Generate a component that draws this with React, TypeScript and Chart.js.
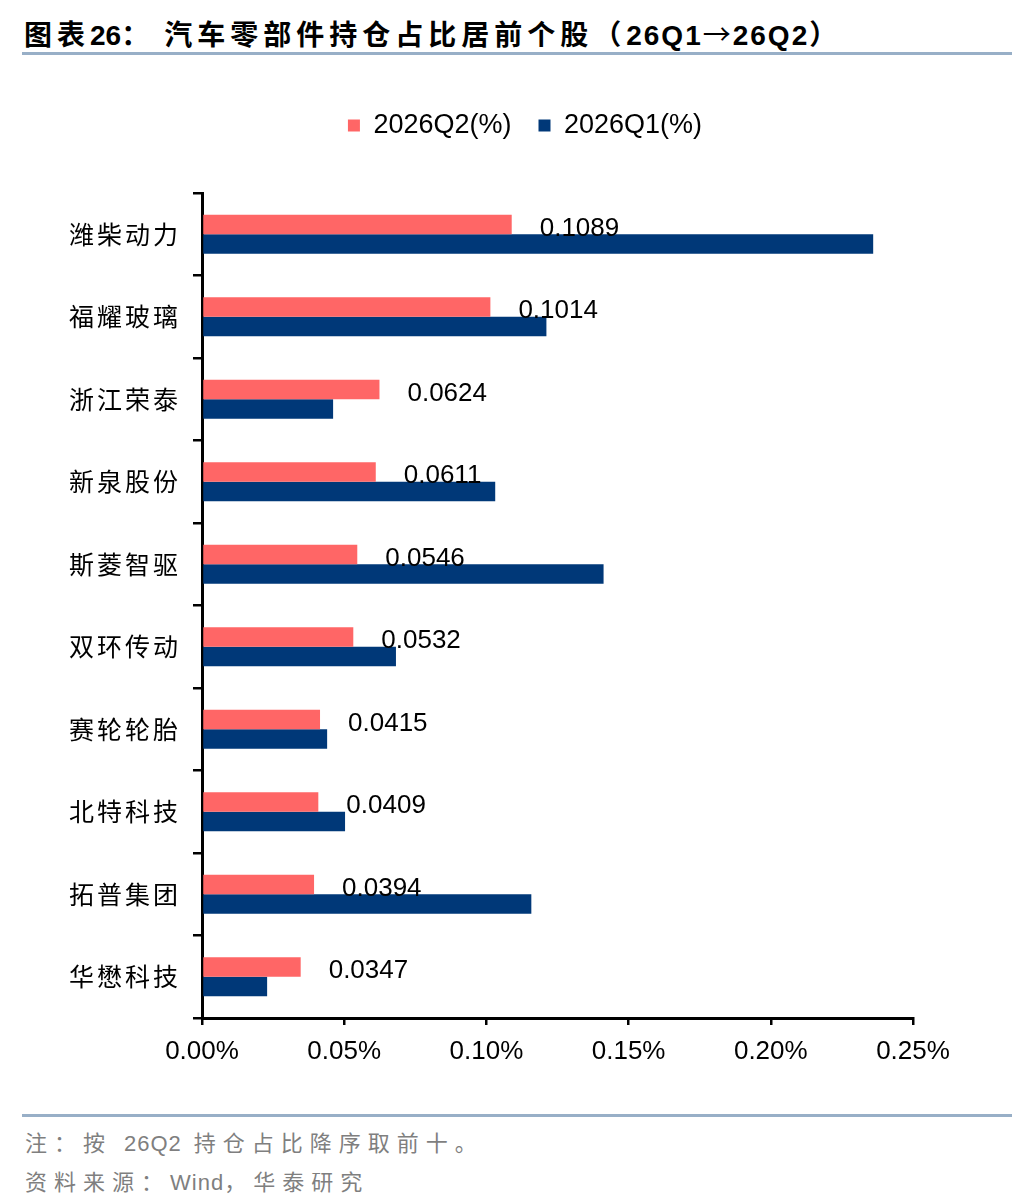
import { useEffect, useRef } from 'react';
import { Chart, registerables } from 'chart.js';

Chart.register(...registerables);

const categories = ['潍柴动力', '福耀玻璃', '浙江荣泰', '新泉股份', '斯菱智驱', '双环传动', '赛轮轮胎', '北特科技', '拓普集团', '华懋科技'];
const q2Values = [0.1089, 0.1014, 0.0624, 0.0611, 0.0546, 0.0532, 0.0415, 0.0409, 0.0394, 0.0347];
const q1Values = [0.2360, 0.1211, 0.0461, 0.1031, 0.1412, 0.0682, 0.0440, 0.0503, 0.1158, 0.0229];
const seriesNames = ['2026Q2(%)', '2026Q1(%)'];
const xMin = 0;
const xMax = 0.25;
const xStep = 0.05;

const RED = '#ff6666';
const NAVY = '#003878';
const LINE = '#98afc7';
const SANS = '"Liberation Sans", Arial, "Noto Sans CJK SC", sans-serif';
const CJK = '"Noto Sans CJK SC", sans-serif';

// value labels for the Q2 series, placed right of the red bar
const valueLabels = {
    id: 'valueLabels',
    afterDatasetsDraw(chart: any) {
        const ctx = chart.ctx;
        const meta = chart.getDatasetMeta(0);
        ctx.save();
        ctx.font = `26px ${SANS}`;
        ctx.fillStyle = '#000';
        ctx.textAlign = 'left';
        ctx.textBaseline = 'middle';
        meta.data.forEach((bar: any, i: number) => {
            ctx.fillText(q2Values[i].toFixed(4), bar.x + 28, bar.y + 4);
        });
        ctx.restore();
    },
};

// spacing between the category characters, and legend placement
const layoutTweaks = {
    id: 'layoutTweaks',
    beforeInit(chart: any) {
        const legend = chart.legend;
        if (legend && !legend._tall) {
            const fit = legend.fit;
            legend.fit = function () {
                fit.call(this);
                this.height = 108;
            };
            legend._tall = true;
        }
    },
    afterLayout(chart: any) {
        const legend = chart.legend;
        if (legend) {
            legend.left = 0;
            legend.right = 1050;
        }
    },
    beforeDraw(chart: any) {
        const y = chart.scales.y;
        if (y && !y._spaced) {
            const drawLabels = y.drawLabels.bind(y);
            y.drawLabels = (area: any) => {
                chart.ctx.save();
                chart.ctx.letterSpacing = '3px';
                drawLabels(area);
                chart.ctx.restore();
            };
            y._spaced = true;
        }
    },
};

const HoldingChart = () => {
    const canvasRef = useRef<HTMLCanvasElement>(null);

    useEffect(() => {
        const canvas = canvasRef.current;
        if (!canvas) return;

        const chart = new Chart(canvas, {
            type: 'bar',
            data: {
                labels: categories,
                datasets: [
                    {
                        label: seriesNames[0],
                        data: q2Values,
                        backgroundColor: RED,
                        categoryPercentage: 0.47,
                        barPercentage: 1,
                    },
                    {
                        label: seriesNames[1],
                        data: q1Values,
                        backgroundColor: NAVY,
                        categoryPercentage: 0.47,
                        barPercentage: 1,
                    },
                ],
            },
            options: {
                indexAxis: 'y',
                animation: false,
                responsive: true,
                maintainAspectRatio: false,
                layout: {
                    padding: { top: 5, left: 0, right: 123, bottom: 0 },
                },
                plugins: {
                    tooltip: { enabled: false },
                    legend: {
                        position: 'top',
                        labels: {
                            boxWidth: 12,
                            boxHeight: 12,
                            padding: 27,
                            color: '#000',
                            font: { family: SANS, size: 27 },
                        },
                    },
                },
                scales: {
                    x: {
                        min: xMin,
                        max: xMax,
                        afterFit: (s: any) => {
                            s.height = 60;
                        },
                        ticks: {
                            stepSize: xStep,
                            padding: 11,
                            color: '#000',
                            font: { family: SANS, size: 26 },
                            callback: (v: any) => Number(v).toFixed(2) + '%',
                        },
                        grid: {
                            drawOnChartArea: false,
                            drawTicks: true,
                            tickLength: 7,
                            color: '#000',
                            lineWidth: 2.5,
                        },
                        border: { color: '#000', width: 3 },
                    },
                    y: {
                        afterFit: (s: any) => {
                            s.width = 202;
                        },
                        ticks: {
                            padding: 12,
                            color: '#000',
                            font: { family: CJK, size: 25 },
                        },
                        grid: {
                            offset: true,
                            drawOnChartArea: false,
                            drawTicks: true,
                            tickLength: 9,
                            color: '#000',
                            lineWidth: 2.5,
                        },
                        border: { color: '#000', width: 3 },
                    },
                },
            },
            plugins: [valueLabels, layoutTweaks],
        });

        return () => {
            chart.destroy();
        };
    }, []);

    return <canvas ref={canvasRef}></canvas>;
};

const latin = { letterSpacing: 0, fontFamily: SANS };

export default function App() {
    return (
        <div style={{ position: 'absolute', left: 0, top: 0, width: 1036, height: 1204, background: '#fff', fontFamily: CJK }}>
            <div style={{ position: 'absolute', left: 24, top: 13, height: 40, lineHeight: '40px', fontSize: 28, fontWeight: 'bold', letterSpacing: 5, whiteSpace: 'nowrap', color: '#000' }}>
                <span>图表</span>
                <span style={latin}>26</span>
                <span>：</span>
                <span style={{ marginLeft: 10 }}>汽车零部件持仓占比居前个股（</span>
                <span style={{ ...latin, letterSpacing: 2 }}>26Q1</span>
                <span style={{ letterSpacing: 2, fontWeight: 'normal' }}>→</span>
                <span style={{ ...latin, letterSpacing: 2 }}>26Q2</span>
                <span>）</span>
            </div>
            <div style={{ position: 'absolute', left: 22, top: 52, width: 990, height: 3, background: LINE }} />
            <div style={{ position: 'absolute', left: 0, top: 80, width: 1036, height: 998 }}>
                <HoldingChart />
            </div>
            <div style={{ position: 'absolute', left: 22, top: 1114, width: 990, height: 3, background: LINE }} />
            <div style={{ position: 'absolute', left: 25, top: 1126, lineHeight: '30px', fontSize: 22, letterSpacing: 7, color: '#7f7f7f', whiteSpace: 'nowrap' }}>
                注：按 <span style={{ ...latin, letterSpacing: 1 }}>26Q2</span> 持仓占比降序取前十。
            </div>
            <div style={{ position: 'absolute', left: 25, top: 1165, lineHeight: '30px', fontSize: 22, letterSpacing: 7, color: '#7f7f7f', whiteSpace: 'nowrap' }}>
                资料来源：<span style={{ ...latin, letterSpacing: 1 }}>Wind</span>，华泰研究
            </div>
        </div>
    );
}
